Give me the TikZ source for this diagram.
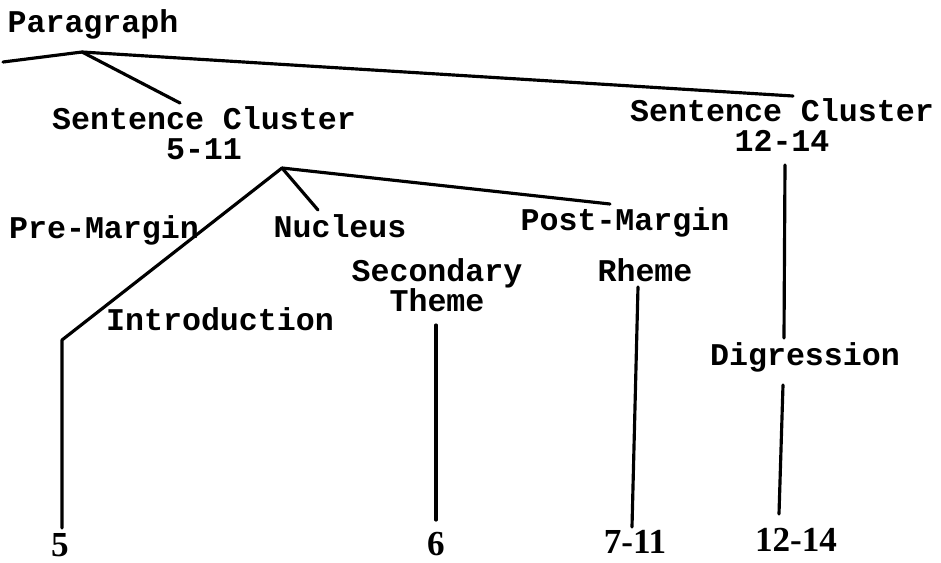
\documentclass[tikz,border=0pt]{standalone}
\usepackage{fontspec}
\newfontfamily\typefont{Liberation Mono}
\newfontfamily\numfont{Liberation Serif}

\begin{document}
\begin{tikzpicture}[x=0.02cm,y=-0.02cm,
    label/.style ={inner sep=0pt, align=center, font=\typefont\bfseries\fontsize{18}{17}\selectfont},
    number/.style ={inner sep=0pt, font=\numfont\bfseries\fontsize{20}{24}\selectfont},
    branch/.style ={line width=1.8pt, line cap=round, line join=round}]
   \useasboundingbox (0,0) rectangle (941,562);
   % labels of the tree
   \node[label] (para)  at (93,24)   {Paragraph};
   \node[label] (sc1)   at (204,133) {Sentence Cluster\\5-11};
   \node[label] (sc2)   at (782,125) {Sentence Cluster\\12-14};
   \node[label] (pre)   at (104,230) {Pre-Margin};
   \node[label] (nuc)   at (340,226) {Nucleus};
   \node[label] (post)  at (625,222) {Post-Margin};
   \node[label] (sec)   at (437,285) {Secondary\\Theme};
   \node[label] (rheme) at (645,270) {Rheme};
   \node[label] (intro) at (220,319) {Introduction};
   \node[label] (dig)   at (805,357) {Digression};
   % sentence numbers
   \node[number] (n5)    at (60,545)  {5};
   \node[number] (n6)    at (436,544) {6};
   \node[number] (n711)  at (635,542) {7-11};
   \node[number] (n1214) at (796,540) {12-14};
   % branching points
   \coordinate (lend) at (3,62);
   \coordinate (top)  at (82,52);
   \coordinate (sub)  at (282,168);
   \coordinate (bend) at (62,340);
   \draw[branch] (lend) -- (top) -- ([shift={(11,-29)}]sc2.center);
   \draw[branch] (top) -- ([shift={(-24,-30)}]sc1.center);
   \draw[branch] (sub) -- ([shift={(-22,-16)}]nuc.center);
   \draw[branch] (sub) -- ([shift={(-15,-18)}]post.center);
   \draw[branch] (sub) -- (bend) -- ([shift={(2,-17)}]n5.center);
   \draw[branch] ([shift={(-1,40)}]sec.center) -- ([shift={(0,-24)}]n6.center);
   \draw[branch] ([shift={(-7,17)}]rheme.center) -- ([shift={(-3,-15)}]n711.center);
   \draw[branch] ([shift={(3,40)}]sc2.center) -- ([shift={(-21,-19)}]dig.center);
   \draw[branch] ([shift={(-22,28)}]dig.center) -- ([shift={(-17,-26)}]n1214.center);
\end{tikzpicture}
\end{document}
